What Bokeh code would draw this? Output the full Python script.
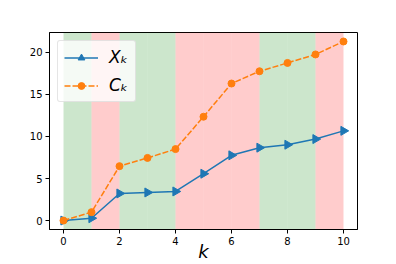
from bokeh.plotting import figure
from bokeh.models import BoxAnnotation, FixedTicker, Range1d, Legend, LegendItem, ColumnDataSource
from bokeh.embed import file_html
from bokeh.resources import INLINE
import math

k = [0, 1, 2, 3, 4, 5, 6, 7, 8, 9, 10]
x_vals = [0.0, 0.28, 3.22, 3.34, 3.46, 5.57, 7.76, 8.67, 9.02, 9.69, 10.67]
c_vals = [0.0, 1.0, 6.47, 7.45, 8.5, 12.35, 16.3, 17.76, 18.75, 19.76, 21.3]
band_start = [0, 1, 2, 3, 4, 5, 6, 7, 8, 9]
band_color = ["green", "red", "green", "green", "red", "red", "red", "green", "green", "red"]
x_ticks = [0, 2, 4, 6, 8, 10]
y_ticks = [0, 5, 10, 15, 20]

src_x = ColumnDataSource(dict(k=k, v=x_vals, ang=[-math.pi / 2] * len(k)))
src_c = ColumnDataSource(dict(k=k, v=c_vals))

p = figure(width=396, height=264, output_backend="svg", toolbar_location=None,
           x_range=Range1d(-0.5, 10.5), y_range=Range1d(-1.065, 22.37),
           min_border_left=49, min_border_right=39, min_border_top=32, min_border_bottom=33)
p.background_fill_color = "white"
p.border_fill_color = "white"
p.outline_line_color = "black"
p.outline_line_width = 1
p.grid.visible = False

for s, col in zip(band_start, band_color):
    p.add_layout(BoxAnnotation(left=s, right=s + 1, fill_color=col, fill_alpha=0.2,
                               line_color=None, level="underlay"))

l1 = p.line("k", "v", source=src_x, line_color="#1f77b4", line_width=1.5)
m1 = p.scatter("k", "v", source=src_x, marker="triangle", angle="ang", size=9,
               fill_color="#1f77b4", line_color="#1f77b4")
l2 = p.line("k", "v", source=src_c, line_color="#ff7f0e", line_width=1.5, line_dash="6 2")
m2 = p.scatter("k", "v", source=src_c, marker="circle", size=7,
               fill_color="#ff7f0e", line_color="#ff7f0e")

legend = Legend(items=[LegendItem(label="Xₖ", renderers=[l1, m1]),
                       LegendItem(label="Cₖ", renderers=[l2, m2])],
                location="top_left")
legend.label_text_font = "DejaVu Sans"
legend.label_text_font_style = "italic"
legend.label_text_font_size = "17px"
legend.label_text_color = "black"
legend.glyph_width = 34
legend.glyph_height = 17
legend.label_height = 17
legend.spacing = 8
legend.padding = 6
legend.margin = 8
legend.label_standoff = 11
legend.background_fill_alpha = 0.8
legend.border_line_color = "#cccccc"
legend.border_radius = 3
p.add_layout(legend)

for ax in (p.xaxis[0], p.yaxis[0]):
    ax.major_label_text_font = "DejaVu Sans"
    ax.major_label_text_font_size = "10px"
    ax.major_label_text_color = "black"
    ax.axis_line_color = "black"
    ax.major_tick_line_color = "black"
    ax.major_tick_out = 4
    ax.major_tick_in = 0
    ax.minor_tick_line_color = None
    ax.major_label_standoff = 3

p.xaxis.ticker = FixedTicker(ticks=x_ticks)
p.yaxis.ticker = FixedTicker(ticks=y_ticks)
p.xaxis.axis_label = "k"
p.xaxis.axis_label_text_font = "DejaVu Sans"
p.xaxis.axis_label_text_font_style = "italic"
p.xaxis.axis_label_text_font_size = "18px"
p.xaxis.axis_label_text_color = "black"
p.xaxis.axis_label_standoff = -7

open("out.html", "w").write(file_html(p, INLINE))
